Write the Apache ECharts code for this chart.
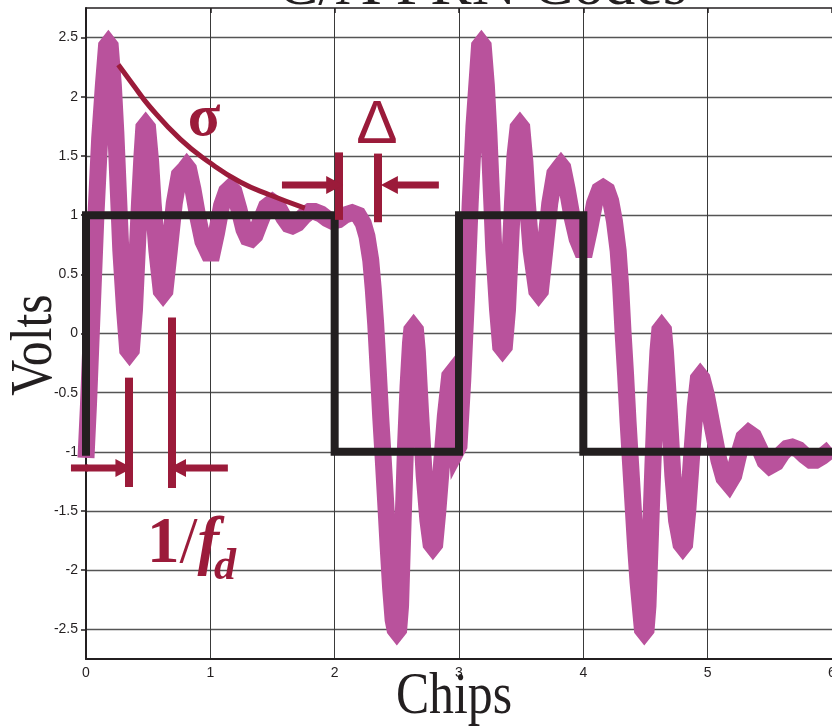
<!DOCTYPE html>
<html>
<head>
<meta charset="utf-8">
<script src="https://cdn.jsdelivr.net/npm/echarts@6/dist/echarts.min.js"></script>
<style>
  html, body { margin: 0; padding: 0; background: #ffffff; }
  #chart { width: 832px; height: 728px; }
</style>
</head>
<body>
<div id="chart"></div>
<script>
// Received signal with ringing, sampled in chips / volts
const chipTimes = [
  0.00, 0.02, 0.05, 0.08, 0.11, 0.14, 0.165, 0.18, 0.195, 0.22,
  0.24, 0.26, 0.28, 0.31, 0.335, 0.35, 0.365, 0.39, 0.41, 0.43,
  0.45, 0.465, 0.48, 0.495, 0.52, 0.54, 0.57, 0.605, 0.62, 0.635,
  0.67, 0.71, 0.75, 0.795, 0.81, 0.825, 0.86, 0.90, 0.94, 0.985,
  1.00, 1.015, 1.05, 1.09, 1.13, 1.16, 1.19, 1.23, 1.27, 1.30,
  1.33, 1.36, 1.40, 1.45, 1.50, 1.54, 1.59, 1.63, 1.66, 1.70,
  1.75, 1.80, 1.84, 1.89, 1.94, 1.98, 2.03, 2.08, 2.14, 2.19,
  2.23, 2.26, 2.29, 2.31, 2.33, 2.35, 2.37, 2.39, 2.41, 2.43,
  2.45, 2.47, 2.485, 2.50, 2.515, 2.53, 2.55, 2.57, 2.59, 2.61,
  2.62, 2.635, 2.65, 2.665, 2.69, 2.72, 2.75, 2.775, 2.79, 2.805,
  2.83, 2.86, 2.89, 2.925, 2.94, 2.955, 2.97, 2.985, 3.00, 3.03,
  3.06, 3.09, 3.12, 3.15, 3.165, 3.18, 3.195, 3.22, 3.24, 3.26,
  3.28, 3.31, 3.335, 3.35, 3.365, 3.39, 3.41, 3.43, 3.45, 3.475,
  3.49, 3.505, 3.53, 3.55, 3.58, 3.625, 3.64, 3.655, 3.69, 3.73,
  3.77, 3.805, 3.82, 3.835, 3.87, 3.91, 3.95, 3.985, 4.00, 4.015,
  4.05, 4.09, 4.13, 4.16, 4.19, 4.22, 4.25, 4.28, 4.30, 4.32,
  4.34, 4.36, 4.38, 4.40, 4.42, 4.44, 4.46, 4.475, 4.49, 4.505,
  4.52, 4.54, 4.56, 4.58, 4.60, 4.615, 4.63, 4.645, 4.66, 4.69,
  4.72, 4.75, 4.785, 4.80, 4.815, 4.84, 4.87, 4.90, 4.925, 4.94,
  4.955, 4.99, 5.04, 5.09, 5.13, 5.17, 5.21, 5.25, 5.29, 5.33,
  5.37, 5.42, 5.46, 5.50, 5.55, 5.60, 5.64, 5.68, 5.73, 5.78,
  5.83, 5.87, 5.92, 6.00
];
const receivedVolts = [
  -1.05, -0.60, 0.20, 1.00, 1.65, 2.10, 2.43, 2.45, 2.43, 2.10,
  1.70, 1.20, 0.70, 0.20, -0.14, -0.16, -0.14, 0.20, 0.65, 1.10,
  1.50, 1.74, 1.76, 1.74, 1.45, 1.10, 0.70, 0.36, 0.34, 0.36,
  0.70, 1.10, 1.34, 1.39, 1.41, 1.39, 1.22, 0.98, 0.78, 0.68,
  0.67, 0.68, 0.85, 1.08, 1.20, 1.23, 1.20, 1.05, 0.88, 0.81,
  0.80, 0.83, 0.94, 1.07, 1.11, 1.08, 0.98, 0.92, 0.91, 0.93,
  0.99, 1.03, 1.03, 1.01, 0.97, 0.95, 0.96, 1.00, 1.02, 1.00,
  0.93, 0.82, 0.62, 0.38, 0.08, -0.30, -0.70, -1.05, -1.42, -1.80,
  -2.15, -2.42, -2.50, -2.52, -2.50, -2.30, -1.60, -0.95, -0.45, -0.08,
  0.03, 0.05, 0.03, -0.15, -0.65, -1.20, -1.58, -1.78, -1.80, -1.78,
  -1.50, -1.10, -0.70, -0.36, -0.34, -0.40, -0.75, -0.98, -0.95, -0.40,
  0.30, 1.10, 1.75, 2.20, 2.43, 2.45, 2.43, 2.10, 1.70, 1.20,
  0.70, 0.20, -0.11, -0.13, -0.11, 0.20, 0.65, 1.10, 1.50, 1.74,
  1.76, 1.74, 1.45, 1.10, 0.70, 0.36, 0.34, 0.36, 0.70, 1.10,
  1.35, 1.40, 1.42, 1.40, 1.22, 0.98, 0.80, 0.71, 0.70, 0.71,
  0.88, 1.10, 1.21, 1.23, 1.21, 1.12, 0.95, 0.70, 0.40, 0.00,
  -0.35, -0.75, -1.10, -1.45, -1.80, -2.10, -2.33, -2.50, -2.52, -2.50,
  -2.30, -1.70, -1.10, -0.55, -0.15, 0.03, 0.05, 0.03, -0.15, -0.65,
  -1.20, -1.58, -1.78, -1.80, -1.78, -1.50, -1.05, -0.62, -0.38, -0.36,
  -0.38, -0.52, -0.80, -1.07, -1.22, -1.27, -1.20, -1.02, -0.88, -0.84,
  -0.87, -0.98, -1.08, -1.12, -1.09, -1.01, -0.97, -0.96, -0.98, -1.03,
  -1.07, -1.07, -1.04, -0.97
];

// Ideal C/A code chip sequence (step corners)
const codeTimes = [0, 0, 2, 2, 3, 3, 4, 4, 6];
const codeLevels = [-1, 1, 1, -1, -1, 1, 1, -1, -1];

// Axis ticks
const voltTicks = [-2.5, -2, -1.5, -1, -0.5, 0, 0.5, 1, 1.5, 2, 2.5];

// Decay envelope (sigma) sketched over the ringing
const sigmaX = [0.26, 0.38, 0.51, 0.76, 1.00, 1.24, 1.48, 1.76];
const sigmaY = [2.27, 2.10, 1.92, 1.64, 1.44, 1.28, 1.17, 1.06];

// Dimension bars: [chip, top volts, bottom volts]
const periodBars = [[0.346, -0.373, -1.297], [0.691, 0.136, -1.305]];
const delayBars = [[2.03, 1.53, 0.96], [2.35, 1.52, 0.94]];
// Dimension arrows: [tail chip, head chip, volts]
const periodArrows = [[-0.121, 0.305, -1.136], [1.141, 0.736, -1.136]];
const delayArrows = [[1.576, 2.0, 1.254], [2.838, 2.44, 1.254]];

const ink = '#231f20';
const wine = '#9b1b3a';
const orchid = '#b9529c';
const serif = '"Liberation Serif", "Times New Roman", serif';
const sans = '"Liberation Sans", Arial, Helvetica, sans-serif';

const chart = echarts.init(document.getElementById('chart'), null, { renderer: 'canvas' });

const pairs = (xs, ys) => xs.map((x, i) => [x, ys[i]]);
const allArrows = periodArrows.concat(delayArrows);

const barLines = periodBars.concat(delayBars).map(b => [
  { coord: [b[0], b[1]] }, { coord: [b[0], b[2]] }
]);

// Each arrow is a two-point line whose head is a rotated triangle symbol
const arrowSeries = allArrows.map((a, i) => ({
  name: 'arrow' + i,
  type: 'line',
  z: 5,
  clip: false,
  silent: true,
  showSymbol: true,
  showAllSymbol: true,
  lineStyle: { color: wine, width: 7, cap: 'butt' },
  itemStyle: { color: wine, borderWidth: 0 },
  emphasis: { disabled: true },
  data: [
    { value: [Math.max(a[0], 0), a[2]], symbol: 'none' },
    { value: [a[1], a[2]], symbol: 'triangle', symbolSize: [18, 17], symbolRotate: a[1] > a[0] ? -90 : 90 }
  ]
}));

const labelStyle = { color: ink, fontSize: 14, fontFamily: sans };

chart.setOption({
  animation: false,
  backgroundColor: '#ffffff',
  grid: { left: 86, right: 0, top: 8, bottom: 69, containLabel: false, outerBoundsMode: 'none' },
  xAxis: [
    {
      type: 'value', min: 0, max: 6, interval: 1, position: 'bottom',
      axisLine: { show: true, onZero: false, lineStyle: { color: ink, width: 2 } },
      axisTick: { show: false },
      axisLabel: Object.assign({ margin: 7 }, labelStyle),
      splitLine: { show: true, lineStyle: { color: '#3a3a3a', width: 1 } }
    },
    {
      type: 'value', min: 0, max: 6, interval: 1, position: 'top',
      axisLine: { show: true, onZero: false, lineStyle: { color: ink, width: 1.5 } },
      axisTick: { show: true, inside: true, length: 5, lineStyle: { color: ink, width: 1.5 } },
      axisLabel: { show: false },
      splitLine: { show: false }
    }
  ],
  yAxis: [
    {
      type: 'value', min: -2.75, max: 2.75, position: 'left',
      axisLine: { show: true, onZero: false, lineStyle: { color: ink, width: 2 } },
      axisTick: { show: false, customValues: voltTicks },
      axisLabel: Object.assign({ margin: 8, customValues: voltTicks, formatter: v => String(v) }, labelStyle),
      splitLine: { show: true, lineStyle: { color: '#555555', width: 1.3 } }
    },
    {
      type: 'value', min: -2.75, max: 2.75, position: 'right',
      axisLine: { show: false },
      axisTick: { show: true, inside: true, length: 5, customValues: voltTicks, lineStyle: { color: ink, width: 1.5 } },
      axisLabel: { show: false, customValues: voltTicks },
      splitLine: { show: false }
    }
  ],
  series: [
    {
      name: 'received',
      type: 'line',
      data: pairs(chipTimes, receivedVolts),
      showSymbol: false,
      symbol: 'none',
      z: 2,
      lineStyle: { color: orchid, width: 17, join: 'miter', miterLimit: 5, cap: 'butt' },
      emphasis: { disabled: true },
      silent: true
    },
    {
      name: 'code',
      type: 'line',
      data: pairs(codeTimes, codeLevels),
      showSymbol: false,
      symbol: 'none',
      z: 3,
      lineStyle: { color: ink, width: 8, join: 'miter', cap: 'square' },
      emphasis: { disabled: true },
      silent: true
    },
    {
      name: 'sigma',
      type: 'line',
      data: pairs(sigmaX, sigmaY),
      smooth: true,
      showSymbol: false,
      symbol: 'none',
      z: 4,
      lineStyle: { color: wine, width: 5, cap: 'butt' },
      emphasis: { disabled: true },
      silent: true
    },
    {
      name: 'bars',
      type: 'line',
      data: [],
      z: 4,
      silent: true,
      markLine: {
        silent: true,
        animation: false,
        symbol: ['none', 'none'],
        label: { show: false },
        lineStyle: { color: wine, width: 8, type: 'solid' },
        emphasis: { disabled: true },
        data: barLines
      }
    }
  ].concat(arrowSeries),
  graphic: [
    {
      type: 'text', x: 482, y: -12, silent: true,
      style: { text: 'C/A PRN Codes', font: '62px ' + serif, fill: ink, align: 'center', verticalAlign: 'middle' }
    },
    {
      type: 'text', x: 454, y: 697, scaleX: 0.83, silent: true,
      style: { text: 'Chips', font: '60px ' + serif, fill: ink, align: 'center', verticalAlign: 'middle' }
    },
    {
      type: 'text', x: 35, y: 345, rotation: Math.PI / 2, scaleX: 0.83, silent: true,
      style: { text: 'Volts', font: '60px ' + serif, fill: ink, align: 'center', verticalAlign: 'middle' }
    },
    {
      type: 'text', x: 204, y: 119, silent: true, z: 10,
      style: { text: 'σ', font: 'bold 60px ' + serif, fill: wine, align: 'center', verticalAlign: 'middle' }
    },
    {
      type: 'text', x: 377, y: 126, silent: true, z: 10,
      style: { text: 'Δ', font: '62px ' + sans, fill: wine, align: 'center', verticalAlign: 'middle' }
    },
    {
      type: 'text', x: 147, y: 545, silent: true, z: 10,
      style: {
        text: '{one|1}{slash|/}{f|f}',
        align: 'left', verticalAlign: 'middle',
        rich: {
          one: { font: 'bold 65px ' + serif, fill: wine },
          slash: { font: '65px ' + serif, fill: wine },
          f: { font: 'italic bold 65px ' + serif, fill: wine }
        }
      }
    },
    {
      type: 'text', x: 214, y: 568, silent: true, z: 10,
      style: { text: 'd', font: 'italic bold 44px ' + serif, fill: wine, align: 'left', verticalAlign: 'middle' }
    }
  ]
});

// Arrow tails that start left of the plot area are drawn outside the grid clip
const tailShapes = allArrows.filter(a => a[0] < 0).map((a, i) => {
  const p0 = chart.convertToPixel({ gridIndex: 0 }, [a[0], a[2]]);
  const p1 = chart.convertToPixel({ gridIndex: 0 }, [0, a[2]]);
  return {
    id: 'tail' + i,
    type: 'line',
    silent: true,
    z: 10,
    shape: { x1: p0[0], y1: p0[1], x2: p1[0] + 2, y2: p1[1] },
    style: { stroke: wine, lineWidth: 7, lineCap: 'butt' }
  };
});
chart.setOption({ graphic: tailShapes });
</script>
</body>
</html>
